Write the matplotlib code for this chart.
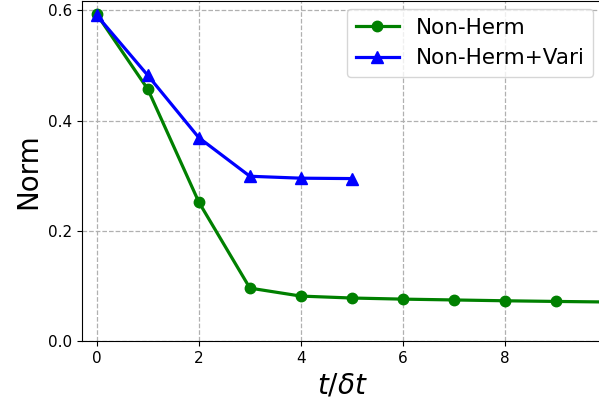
import numpy as np
import matplotlib
matplotlib.use('Agg')
import matplotlib.pyplot as plt

# Norm vs time step
steps_nh = [0, 1, 2, 3, 4, 5, 6, 7, 8, 9, 10]
norm_nh = [0.593, 0.457, 0.252, 0.096, 0.0815, 0.078, 0.076, 0.0745, 0.073, 0.0718, 0.0708]

steps_vari = [0, 1, 2, 3, 4, 5]
norm_vari = [0.591, 0.482, 0.369, 0.299, 0.2955, 0.2948]

fig = plt.figure(figsize=(5.99, 4.03), dpi=100)
ax = fig.add_axes([82 / 599, 62 / 403, 520 / 599, 340.5 / 403])

ax.plot(steps_nh, norm_nh, color='green', marker='o', linewidth=2.3,
        markersize=7.5, label='Non-Herm')
ax.plot(steps_vari, norm_vari, color='blue', marker='^', linewidth=2.3,
        markersize=8, label='Non-Herm+Vari')

ax.set_xlim(-0.29, 9.9)
ax.set_ylim(0, 0.618)
ax.set_xticks([0, 2, 4, 6, 8])
ax.set_yticks([0.0, 0.2, 0.4, 0.6])
ax.tick_params(labelsize=11)
ax.grid(True, linestyle='--', color='#b0b0b0', linewidth=0.9)
ax.set_xlabel(r'$t/\delta t$', fontsize=20)
ax.set_ylabel('Norm', fontsize=20)
ax.legend(fontsize=15.5, loc='upper right', borderaxespad=0.4)

plt.savefig('out.png', dpi=100)
